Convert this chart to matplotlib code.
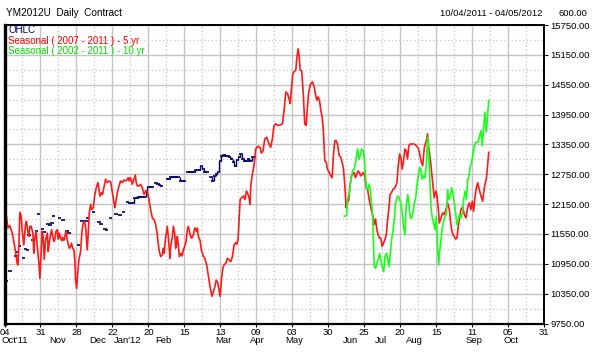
import matplotlib
matplotlib.use("Agg")
import matplotlib.pyplot as plt
from matplotlib.ticker import FixedLocator

plt.rcParams["font.family"] = ["Liberation Sans", "DejaVu Sans"]

# ── Data (x = trading-day index from 04 Oct 2011) ─────────────
tick_days = [0, 19, 38, 57, 76, 95, 114, 133, 152, 171, 190, 209, 228, 247, 266, 285]
tick_labels = ["04", "31", "28", "22", "20", "15", "13", "09", "03", "30", "25", "20", "15", "11", "05", "31"]
month_days = [28, 49.2, 65, 84, 115.8, 133.8, 152.8, 183, 198.8, 216.3, 248, 267.6]
month_labels = ["Nov", "Dec", "Jan'12", "Feb", "Mar", "Apr", "May", "Jun", "Jul", "Aug", "Sep", "Oct"]
price_ticks = [9750, 10350, 10950, 11550, 12150, 12750, 13350, 13950, 14550, 15150, 15750]

ohlc_days = [1, 3, 6, 7, 8, 10, 11, 12, 13, 15, 17, 18, 20, 21, 23, 24, 25, 26, 29, 31,
             33, 34, 39, 41, 43, 44, 47, 50, 51, 53, 54, 56, 59, 61, 63, 65, 66, 67, 68, 69,
             70, 71, 72, 73, 74, 75, 76, 77, 78, 80, 81, 82, 83, 86, 87, 88, 89, 90, 91, 92,
             93, 94, 95, 97, 98, 99, 100, 101, 102, 103, 104, 105, 106, 107, 109, 110, 111, 112, 113, 114,
             115, 116, 117, 118, 119, 120, 121, 122, 123, 124, 125, 126, 127, 128, 129, 130, 131, 132]
ohlc_close = [10600, 10800, 11110, 11190, 11310, 11070, 11250, 11230, 11530, 11430, 11615, 11960, 11655, 11595, 11757, 11737, 11777, 11920, 11880, 11840,
              11615, 11575, 11330, 11820, 11820, 11880, 12000, 11800, 11740, 11655, 11635, 11880, 11960, 11940, 12000, 12200, 12180, 12180, 12180, 12265,
              12265, 12285, 12285, 12285, 12285, 12405, 12490, 12490, 12490, 12570, 12550, 12530, 12510, 12650, 12650, 12690, 12690, 12690, 12690, 12690,
              12610, 12610, 12610, 12790, 12790, 12790, 12790, 12830, 12830, 12830, 12910, 12850, 12790, 12790, 12700, 12610, 12710, 12750, 12790, 13010,
              13115, 13135, 13115, 13115, 13095, 13050, 12990, 12910, 13030, 13100, 13155, 13050, 13014, 13014, 13060, 13014, 13095, 13090]

red_days = [0, 1.0, 1.8, 2.8, 4.1, 4.9, 5.8, 6.7, 7.1, 7.6,
            8.1, 8.8, 9.3, 10.2, 11.1, 11.6, 12.3, 12.9, 13.4, 14.1,
            15.0, 15.5, 16.0, 16.7, 17.3, 18.2, 18.7, 19.4, 19.9, 20.4,
            21.0, 21.7, 22.6, 23.1, 23.6, 24.3, 24.9, 25.6, 26.1, 26.6,
            27.2, 27.9, 28.4, 28.9, 29.6, 30.1, 30.7, 31.0, 31.7, 32.3,
            32.8, 33.1, 33.7, 34.2, 34.9, 35.4, 36.0, 36.7, 37.2, 37.5,
            38.1, 38.8, 39.3, 40.2, 40.9, 41.6, 42.3, 43.0, 43.7, 44.2,
            44.8, 45.5, 46.0, 46.9, 47.6, 48.1, 48.7, 49.4, 49.9, 50.4,
            51.3, 51.8, 52.5, 53.4, 54.3, 55.2, 56.1, 57.0, 57.8, 58.3,
            58.9, 59.6, 60.5, 61.3, 62.2, 63.1, 64.2, 64.9, 65.4, 65.9,
            66.6, 67.5, 68.4, 69.1, 69.6, 70.2, 71.0, 71.9, 72.8, 73.7,
            74.6, 75.4, 76.3, 77.2, 78.1, 79.0, 79.9, 80.7, 81.6, 82.5,
            83.4, 83.9, 84.3, 85.1, 86.0, 86.9, 87.4, 87.8, 88.7, 89.2,
            89.9, 90.4, 91.0, 91.3, 91.8, 92.4, 93.1, 93.8, 94.5, 95.2,
            95.9, 96.6, 97.1, 97.7, 98.4, 98.9, 99.8, 100.5, 101.0, 101.5,
            101.9, 102.4, 103.3, 104.0, 105.1, 105.8, 106.8, 107.5, 108.2, 108.9,
            109.6, 110.3, 111.1, 111.8, 112.5, 113.2, 113.9, 114.6, 115.3, 116.0,
            116.9, 117.8, 118.6, 119.5, 120.4, 121.3, 122.2, 122.7, 123.4, 124.0,
            124.5, 125.2, 126.2, 127.0, 127.8, 128.3, 129.2, 129.7,
            130.1, 130.9, 131.8, 132.7, 133.9, 135.0, 135.7, 136.6, 137.5, 138.5,
            139.8, 140.6, 141.5, 142.4, 143.3, 144.5, 145.9, 146.8, 147.7, 148.6,
            149.5, 150.3, 150.9, 151.6, 152.3, 153.0, 153.9, 154.4, 155.1, 155.6,
            156.2, 157.0, 157.9, 158.6, 159.3, 160.0, 160.6, 161.3, 161.8, 162.7,
            163.6, 164.4, 165.0, 165.7, 166.4, 167.1, 167.8, 168.5, 169.2, 169.9,
            170.6, 171.5, 172.4, 173.1, 173.8, 174.5, 175.2, 175.9, 176.8, 177.7,
            178.4, 179.1, 179.8, 180.5, 181.2, 181.9, 182.6, 183.3, 184.0, 184.7,
            185.4, 186.1, 186.8, 187.5, 188.2, 188.9, 189.6, 190.3, 191.1, 191.8,
            192.5, 193.2, 193.9, 194.6, 195.3, 196.0, 196.7, 197.4, 198.1, 198.8,
            199.5, 200.2, 200.9, 201.6, 202.3, 203.0, 203.7, 204.4, 205.2, 205.9,
            206.6, 207.3, 208.0, 208.7, 209.4, 210.1, 210.8, 211.5, 212.2, 212.9,
            213.6, 214.3, 215.0, 215.7, 216.4, 217.1, 217.8, 218.6, 219.2,
            220.0, 220.9, 221.8, 222.6, 223.5, 224.0, 224.6, 225.3, 226.2, 227.0,
            227.9, 228.5, 229.2, 229.7, 230.6, 231.5, 232.3, 233.2, 234.1, 235.0,
            235.5, 236.2, 236.9, 237.6, 238.3, 239.0, 239.7, 240.4, 241.1, 242.0,
            242.9, 243.8, 244.7, 245.6, 246.4, 247.1, 247.8, 248.6, 249.3, 250.0,
            250.8, 251.7, 252.6, 253.1, 253.8, 254.5, 255.2, 255.8]
red_vals = [11939, 11919, 11669, 11716, 11568, 11399, 11196, 10960, 10926, 11297,
            11987, 11906, 11635, 11331, 11737, 11804, 11602, 11500, 11703, 11703,
            11568, 11162, 11466, 11602, 11297, 10960, 10656, 11230, 11602, 11500,
            11041, 11433, 11568, 11196, 11365, 11534, 11635, 11466, 11399, 11446,
            11602, 11635, 11446, 11568, 11466, 11419, 11487, 11419, 11433, 11602,
            11534, 11446, 11331, 11264, 11297, 11365, 11264, 11230, 10993, 10656,
            10453, 10824, 11027, 11196, 11602, 11770, 11804, 11635, 11230, 11534,
            11973, 12142, 12041, 12075, 12311, 12412, 12514, 12581, 12446, 12311,
            12379, 12345, 12480, 12649, 12581, 12615, 12595, 12379, 12176, 12075,
            12210, 12379, 12514, 12615, 12581, 12635, 12615, 12649, 12683, 12615,
            12683, 12548, 12649, 12737, 12581, 12514, 12514, 12548, 12480, 12345,
            12412, 12412, 12243, 12041, 11872, 11838, 11737, 11534, 11230, 11095,
            11129, 11264, 11162, 11466, 11703, 11331, 11061, 11297, 11500, 11703,
            11568, 11264, 11365, 11500, 11331, 11095, 11162, 11108, 11230, 11297,
            11399, 11635, 11703, 11602, 11487, 11466, 11534, 11669, 11635, 11602,
            11669, 11500, 11419, 11230, 11095, 11061, 10926, 10757, 10588, 10419,
            10297, 10385, 10487, 10622, 10588, 10453, 10297, 10622, 10858, 10926,
            10960, 11061, 11027, 10993, 11095, 11331, 11379, 11345, 11433, 11906,
            12243, 12277, 12311, 12243, 12412, 12379, 12277, 12142,
            12513, 12750, 12919, 13257, 13311, 13290, 13175, 13223, 13459, 13493,
            13358, 13290, 13459, 13730, 13763, 13730, 13743, 13763, 14034, 14405,
            14371, 14270, 14169, 14473, 14777, 14811, 14844, 15081, 15270, 15148,
            14844, 14824, 14338, 13763, 13730, 14067, 14371, 14507, 14574, 14608,
            14507, 14338, 14236, 14304, 14236, 14034, 13898, 13594, 13020, 13000,
            12851, 12783, 12716, 12682, 13155, 13425, 13425, 13358, 13121, 13088,
            12986, 12851, 12513, 12074, 12175, 12243, 12547, 12716, 12750, 12783,
            12682, 12750, 12817, 12783, 12716, 12750, 12783, 12716, 12479, 12446,
            12277, 12142, 12006, 11905, 11736, 11851, 11635, 11533, 11466, 11466,
            11297, 11365, 11432, 11513, 11804, 12040, 12344, 12378, 12446, 12459,
            12513, 12581, 12919, 13155, 13088, 12851, 13020, 13257, 13223, 13054,
            13324, 13358, 13358, 13358, 13358, 13338, 13311, 13270, 13189,
            13020, 12919, 13290, 13392, 13561, 13324, 13155, 12919, 12581, 12277,
            12412, 12310, 12040, 11770, 11871, 11973, 11939, 12040, 12175, 12040,
            11838, 11635, 11533, 11500, 11446, 11466, 11702, 11871, 12040, 12094,
            11939, 11871, 12094, 12175, 12040, 12209, 12006, 12310, 12479, 12581,
            12446, 12310, 12209, 12378, 12547, 12648, 12919, 13189]

green_days = [179.5, 180.7, 181.2, 182.1, 183.0, 183.9, 184.7, 185.6, 186.5, 187.4,
              187.9, 188.6, 189.5, 190.0, 190.6, 191.1, 191.8, 192.7, 193.2, 193.6,
              194.1, 194.6, 195.3, 196.0, 196.7, 197.4, 198.1, 198.8, 199.5, 200.3,
              201.0, 201.7, 202.4, 203.1, 203.8, 204.5, 205.2, 205.9, 206.6, 207.3,
              208.0, 208.7, 209.4, 210.1, 210.8, 211.5, 212.2, 213.0, 213.6, 214.4,
              215.1, 215.8, 216.5, 217.2, 217.9, 218.6, 219.3, 220.0, 220.7, 221.4,
              222.1, 222.8, 223.5, 224.0, 224.6, 225.3, 226.0, 226.7, 227.4, 228.1,
              228.8, 229.3, 229.9, 230.6, 231.3, 232.0, 232.7, 233.4, 234.1, 234.8,
              235.5, 236.2, 236.9, 237.6, 238.3, 239.0, 239.7, 240.4, 241.1, 241.9,
              242.6, 243.3, 244.0, 244.7, 245.4, 246.1, 246.8, 247.5, 248.2, 248.9,
              249.6, 250.3, 251.0, 251.7, 252.4, 253.1, 253.8, 254.5, 255.2, 255.8]
green_vals = [11905, 11919, 12243, 12378, 12648, 12817, 12851, 13020, 13257, 13054,
              13121, 13257, 13223, 13088, 12784, 12479, 12446, 12547, 12446, 12243,
              12108, 11770, 10892, 10858, 10959, 11027, 11162, 11027, 10892, 10790,
              11094, 11162, 11060, 10892, 11162, 11432, 11601, 11838, 12175, 12277,
              12310, 12243, 12175, 11973, 11702, 11533, 12108, 12344, 12175, 11871,
              11871, 11973, 12175, 12277, 12513, 12716, 12885, 12851, 12648, 12716,
              12682, 12919, 13493, 13189, 12784, 12074, 11871, 11770, 11635, 11905,
              11297, 10925, 11196, 11432, 11702, 11804, 11905, 11939, 12446, 12243,
              12310, 12479, 12378, 12175, 11973, 11736, 11838, 11939, 11871, 11973,
              12243, 12412, 12243, 12648, 12716, 12919, 12986, 13155, 13324, 13392,
              13392, 13392, 13527, 13628, 13324, 13662, 14000, 13594, 13932, 14236]

# ── Figure ────────────────────────────────────────────────────
W, H = 595, 355
fig = plt.figure(figsize=(W / 100, H / 100), dpi=100)
ax = fig.add_axes([4.5 / W, 1 - 323.5 / H, (544 - 4.5) / W, (323.5 - 25) / H])

ax.set_xlim(0, 285)
ax.set_ylim(9750, 15750)

# grid: solid at major ticks, dotted halfway
grid_c = "#c4c4c4"
ax.xaxis.set_major_locator(FixedLocator(tick_days))
ax.xaxis.set_minor_locator(FixedLocator([d + 9.5 for d in tick_days[:-1]]))
ax.yaxis.set_major_locator(FixedLocator(price_ticks))
ax.yaxis.set_minor_locator(FixedLocator([p + 300 for p in price_ticks[:-1]]))
ax.grid(which="major", color=grid_c, lw=1.0, ls="-")
ax.grid(which="minor", color=grid_c, lw=0.9, ls=(0, (1, 2)))
ax.set_axisbelow(True)

# OHLC bars (early contract trades thinly -> isolated dashes)
navy = "#000066"
for i, (d, c) in enumerate(zip(ohlc_days, ohlc_close)):
    ax.hlines(c, d - 0.9, d + 0.9, color=navy, lw=1.2)
    if i > 0 and d >= 60 and d - ohlc_days[i - 1] == 1:
        ax.vlines(d - 0.5, ohlc_close[i - 1], c, color=navy, lw=1.0)

ax.plot(red_days, red_vals, color="#ff1a1a", lw=1.2)
ax.plot(green_days, green_vals, color="#1aff1a", lw=1.2)

# ticks & labels
fs = 6.8
ax.set_xticks(tick_days)
ax.set_xticklabels(tick_labels)
ax.yaxis.tick_right()
ax.set_yticklabels([f"{p:.2f}" for p in price_ticks])
ax.tick_params(axis="x", which="major", length=2, pad=1, labelsize=fs, color="black")
ax.tick_params(axis="y", which="major", length=3, pad=1.5, labelsize=fs, color="black")
ax.tick_params(which="minor", length=0)

for d, m in zip(month_days, month_labels):
    ax.text(d, -0.058, m, transform=ax.get_xaxis_transform(), ha="center", va="center", fontsize=fs)
ax.text(-1.5, -0.058, "Oct'11", transform=ax.get_xaxis_transform(), ha="left", va="center", fontsize=fs)

for side, lw in [("left", 2.4), ("bottom", 1.6), ("right", 1.4), ("top", 1.4)]:
    ax.spines[side].set_linewidth(lw)
    ax.spines[side].set_color("black")

# legend text inside the plot
ax.text(0.0065, 0.983, "OHLC", transform=ax.transAxes, color=navy, fontsize=7, va="center")
ax.text(0.0065, 0.946, "Seasonal ( 2007 - 2011 ) - 5 yr", transform=ax.transAxes, color="#ff0000", fontsize=7, va="center")
ax.text(0.0065, 0.912, "Seasonal ( 2002 - 2011 ) - 10 yr", transform=ax.transAxes, color="#00e000", fontsize=7, va="center")

# header
fig.text(6 / W, 1 - 13 / H, "YM2012U  Daily  Contract", fontsize=7.2, va="center")
fig.text(542 / W, 1 - 13 / H, "10/04/2011 - 04/05/2012", fontsize=fs, va="center", ha="right")
fig.text(587 / W, 1 - 13 / H, "600.00", fontsize=fs, va="center", ha="right")

fig.savefig("out.png", dpi=100)
